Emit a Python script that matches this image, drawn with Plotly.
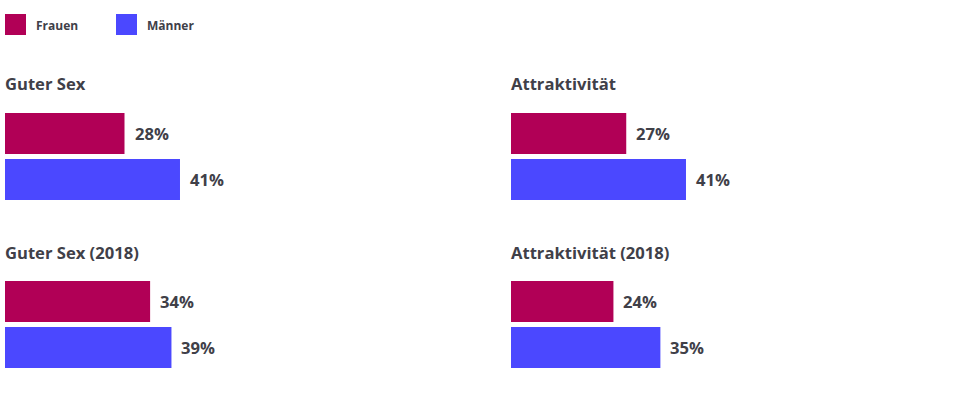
import plotly.graph_objects as go

# Data
series = ["Frauen", "Männer"]
colors = ["#B10056", "#4B48FF"]
panels = ["Guter Sex", "Attraktivität", "Guter Sex (2018)", "Attraktivität (2018)"]
frauen = [28, 27, 34, 24]
maenner = [41, 41, 39, 35]

W, H = 960, 394
FONT = "Open Sans"
TXT = "#404048"

fig = go.Figure()

# panel geometry (pixels)
x_left = [5, 511, 5, 511]
bar_top = [113, 113, 281, 281]
px_per_unit = 4.268
band = 46

annotations = []
shapes = []
for i, name in enumerate(panels):
    ax = "" if i == 0 else str(i + 1)
    x0 = x_left[i] / W
    x1 = (x_left[i] + 100 * px_per_unit) / W
    ytop = bar_top[i] - 2.5
    ybot = ytop + 2 * band
    y0 = 1 - ybot / H
    y1 = 1 - ytop / H
    vals = [frauen[i], maenner[i]]
    fig.add_trace(go.Bar(
        x=vals, y=series, orientation="h",
        marker=dict(color=colors, line=dict(width=0)),
        xaxis="x" + ax, yaxis="y" + ax, showlegend=False,
        hoverinfo="skip",
    ))
    fig.update_layout(**{
        "xaxis" + ax: dict(domain=[x0, x1], range=[0, 100], visible=False, fixedrange=True),
        "yaxis" + ax: dict(domain=[y0, y1], autorange="reversed", visible=False,
                           anchor="x" + ax, fixedrange=True),
    })
    fig.layout["xaxis" + ax].anchor = "y" + ax
    for s, v in zip(series, vals):
        annotations.append(dict(
            x=v, y=s, xref="x" + ax, yref="y" + ax, text=f"{v}%",
            showarrow=False, xanchor="left", xshift=8,
            font=dict(family=FONT, size=16.6, color=TXT, weight="bold"),
        ))
    annotations.append(dict(
        x=x0, y=1 - (bar_top[i] - 29) / H, xref="paper", yref="paper",
        text=name, showarrow=False, xanchor="left", yanchor="middle", xshift=-2,
        font=dict(family=FONT, size=16.6, color=TXT, weight="bold"),
    ))

# custom legend
leg_x = [5, 116]
for s, c, lx in zip(series, colors, leg_x):
    shapes.append(dict(type="rect", xref="paper", yref="paper",
                       x0=lx / W, x1=(lx + 21) / W, y0=1 - 35 / H, y1=1 - 14 / H,
                       fillcolor=c, line=dict(width=0)))
    annotations.append(dict(
        x=(lx + 31) / W, y=1 - 25 / H, xref="paper", yref="paper", text=s,
        showarrow=False, xanchor="left", yanchor="middle", xshift=-2,
        font=dict(family=FONT, size=12, color=TXT, weight="bold"),
    ))

fig.update_layout(
    width=W, height=H, margin=dict(l=0, r=0, t=0, b=0),
    paper_bgcolor="white", plot_bgcolor="white",
    bargap=5 / 46, annotations=annotations, shapes=shapes,
    showlegend=False,
)

fig.write_html("out.html", config={"displayModeBar": False})
